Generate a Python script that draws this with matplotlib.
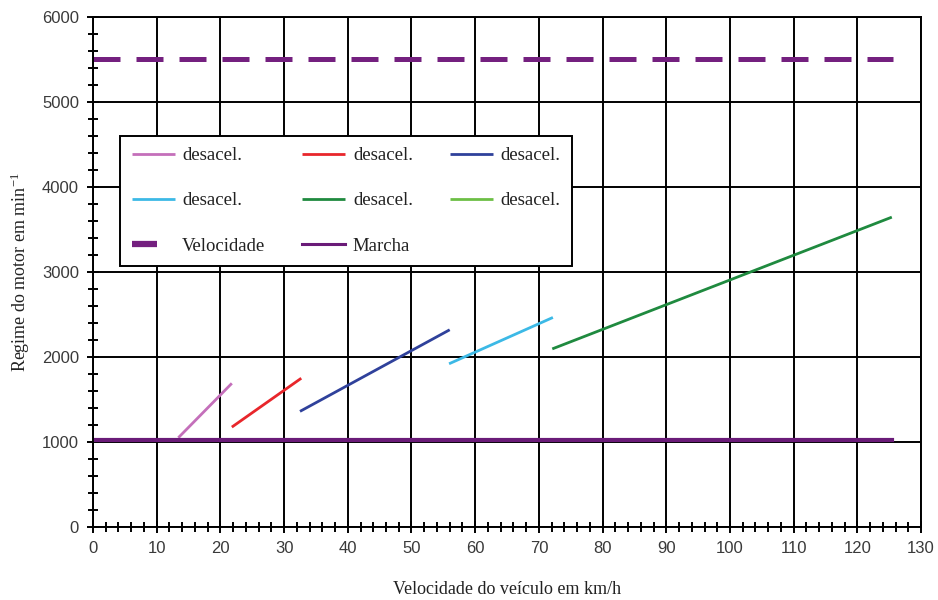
import numpy as np
import matplotlib.pyplot as plt
import matplotlib
from matplotlib.ticker import MultipleLocator
from matplotlib.lines import Line2D

matplotlib.rc('font', size=12)

# deceleration segments (km/h, min^-1)
desacel_x = [[13.4, 21.8], [21.8, 32.7], [32.5, 56.0], [55.9, 72.2], [72.1, 125.4], [1.2, 2.0]]
desacel_y = [[1050, 1690], [1175, 1750], [1360, 2320], [1920, 2465], [2095, 3645], [0, 0]]
desacel_cor = ["#c46fba", "#e8262b", "#2f419b", "#3cb9e6", "#1f8a3f", "#6cbf45"]

vel_x = [0, 125.6]
vel_y = [5500, 5500]
marcha_x = [0, 125.4]
marcha_y = [1025, 1025]

fig = plt.figure(figsize=(9.38, 6), dpi=100)
ax = fig.add_axes([0.0991, 0.1217, 0.8829, 0.85])

handles = []
for xs, ys, c in zip(desacel_x, desacel_y, desacel_cor):
    h, = ax.plot(xs, ys, color=c, lw=2.0, label="desacel.", solid_capstyle='butt')
    handles.append(h)

ax.plot(vel_x, vel_y, color="#74207f", lw=3.6, linestyle=(0, (5.4, 3.2)),
        dash_capstyle='butt', label="Velocidade")
ax.plot(marcha_x, marcha_y, color="#6a1b78", lw=3.0, label="Marcha")

ax.set_xlim(0, 130)
ax.set_ylim(0, 6000)
ax.xaxis.set_major_locator(MultipleLocator(10))
ax.xaxis.set_minor_locator(MultipleLocator(2))
ax.yaxis.set_major_locator(MultipleLocator(1000))
ax.yaxis.set_minor_locator(MultipleLocator(200))
ax.grid(which='major', color='black', lw=1.4)
ax.set_axisbelow(True)
for s in ax.spines.values():
    s.set_linewidth(1.4)
    s.set_color('black')
ax.tick_params(which='both', direction='inout', color='black', width=1.4,
               labelcolor='#3a3a3a', labelsize=12)
ax.tick_params(which='major', length=8, pad=6)
ax.tick_params(which='minor', length=7)
for lab in ax.get_xticklabels() + ax.get_yticklabels():
    lab.set_family('Liberation Sans')

ax.set_xlabel("Velocidade do veículo em km/h", family='Liberation Serif', fontsize=13,
              color='#222222', labelpad=18)
ax.set_ylabel(r"Regime do motor em $\mathregular{min^{-1}}$", family='Liberation Serif',
              fontsize=13, color='#222222', labelpad=7)

h_vel = Line2D([0], [0], color="#74207f", lw=4.5, linestyle=(0, (4, 10)), dash_capstyle='butt')
h_mar = Line2D([0], [0], color="#6a1b78", lw=2.2)
leg_handles = handles + [h_vel, h_mar]
leg_labels = ["desacel."] * 6 + ["Velocidade", "Marcha"]
# legend is filled row by row
order = [0, 3, 6, 1, 4, 7, 2, 5]
leg = ax.legend([leg_handles[i] for i in order], [leg_labels[i] for i in order],
                ncol=3, loc='upper left', bbox_to_anchor=(0.033, 0.51, 0.545, 0.257),
                mode='expand', borderaxespad=0, frameon=True, fancybox=False,
                edgecolor='black', framealpha=1,
                prop={'family': 'Liberation Serif', 'size': 13.5}, labelspacing=1.5,
                handlelength=2.3, handletextpad=0.4, borderpad=0.6, columnspacing=1.0)
leg.get_frame().set_linewidth(1.4)
for t in leg.get_texts():
    t.set_color('#222222')

plt.savefig('out.png', dpi=100)
